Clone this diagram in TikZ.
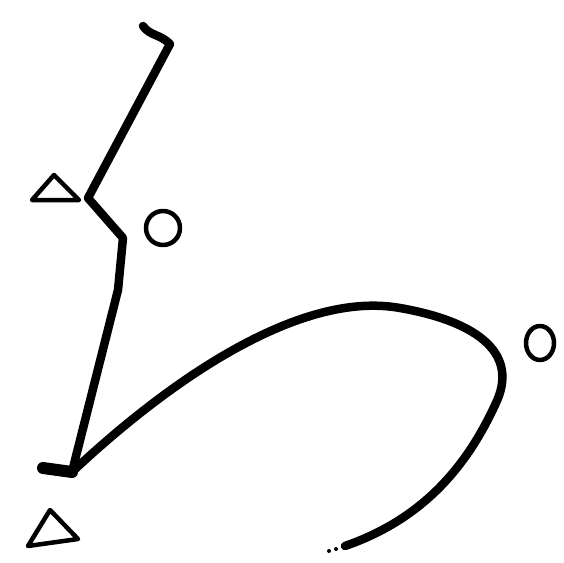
\documentclass[tikz,border=0pt]{standalone}
\begin{document}
\begin{tikzpicture}[x=1pt,y=-1pt,
  heavy/.style={line width=8.5pt,line cap=round,line join=round},
  thin/.style={line width=4.5pt,line cap=round,line join=round}]
\useasboundingbox[fill=white] (0,0) rectangle (564,562);
% top hook and upper stroke
\coordinate (hookA) at (143,26);
\coordinate (hookB) at (170,44);
\coordinate (junc) at (88,198);
\coordinate (knee) at (123,238);
\coordinate (base) at (72,472);
\coordinate (foot) at (43,468);
\draw[heavy] (hookA) .. controls (150,36) and (160,34) .. (hookB)
  -- (junc) -- (knee) -- (118,290) -- (base);
\draw[line width=12pt,line cap=round] (base) -- (foot);
% big curve
\coordinate (cEnd) at (345,546);
\draw[heavy] (base) .. controls (170,380) and (300,290) .. (400,308)
  .. controls (480,322) and (520,355) .. (495,405)
  .. controls (465,470) and (420,520) .. (cEnd);
\fill (336,549) circle (2pt) (329,551) circle (2pt);
% triangles
\draw[thin] (54,175) -- (32,200) -- (79,200) -- cycle;
\draw[thin] (50,510) -- (28,546) -- (78,539) -- cycle;
% circles
\draw[thin] (163,228) ellipse (17 and 17);
\draw[thin] (540,343) ellipse (14 and 17);
\end{tikzpicture}
\end{document}
